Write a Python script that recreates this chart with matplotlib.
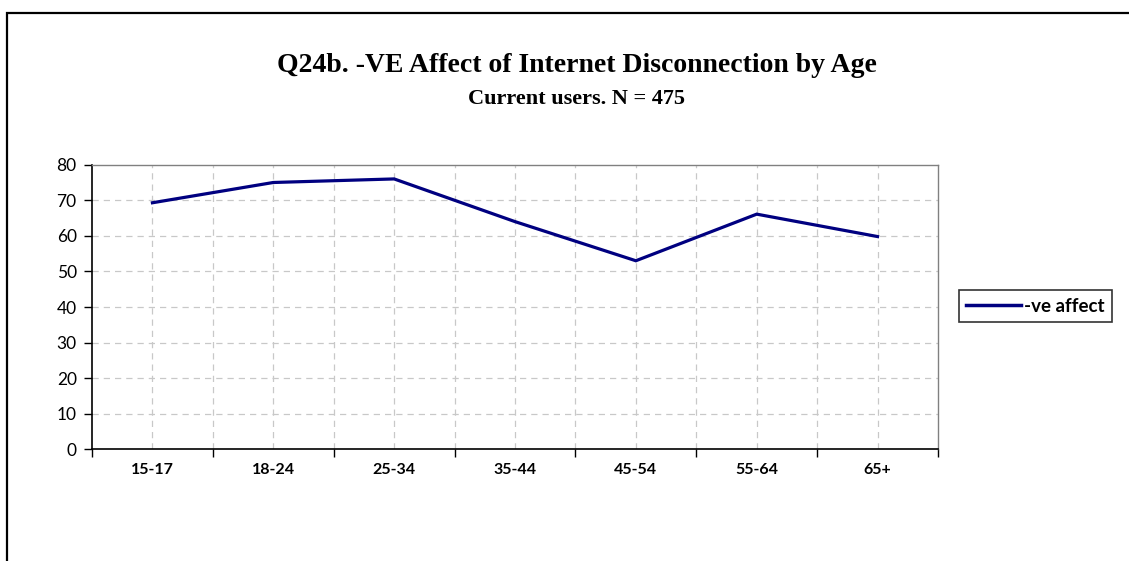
import matplotlib
matplotlib.use("Agg")
import matplotlib.pyplot as plt
from matplotlib.patches import Rectangle
import numpy as np

categories = ["15-17", "18-24", "25-34", "35-44", "45-54", "55-64", "65+"]
values = [69.3, 75.0, 76.0, 64.0, 53.0, 66.1, 59.8]
series_name = "-ve affect"
title = "Q24b. -VE Affect of Internet Disconnection by Age"
subtitle = "Current users. N = 475"
y_ticks = [0, 10, 20, 30, 40, 50, 60, 70, 80]

W, H = 1129, 561
fig = plt.figure(figsize=(W / 100, H / 100), dpi=100)

# outer chart border
fig.patches.append(Rectangle((7 / W, -0.1), 1.2, (H - 13) / H + 0.1,
                             transform=fig.transFigure, fill=False,
                             edgecolor="black", linewidth=1.6, zorder=0))

left, right = 92 / W, 938 / W
top, bottom = 1 - 164.7 / H, 1 - 449.3 / H
ax = fig.add_axes([left, bottom, right - left, top - bottom])

n = len(categories)
xpos = np.arange(n) + 0.5
ax.plot(xpos, values, color="#000080", linewidth=2.3, solid_joinstyle="miter",
        label=series_name, zorder=3)

ax.set_xlim(0, n)
ax.set_ylim(0, 80)
ax.set_yticks(y_ticks)
ax.set_yticklabels([str(t) for t in y_ticks], fontfamily="Lato", fontsize=12.5)

# major x ticks at category boundaries, labels at centres
ax.set_xticks(np.arange(n + 1))
ax.set_xticklabels([""] * (n + 1))
ax.set_xticks(xpos, minor=True)
ax.set_xticklabels(categories, minor=True, fontfamily="Lato",
                   fontweight="bold", fontsize=11.5)
ax.tick_params(axis="x", which="minor", length=0, pad=10)
ax.tick_params(axis="x", which="major", length=6, width=1, direction="out", color="black")
ax.tick_params(axis="y", length=6, width=1, direction="out", color="black", pad=5)

# gridlines
for v in y_ticks[1:-1]:
    ax.axhline(v, color="#c8c8c8", linewidth=0.9, linestyle=(0, (5, 4)), zorder=1)
for xv in np.arange(1, 2 * n) / 2.0:
    ax.axvline(xv, color="#c8c8c8", linewidth=0.9, linestyle=(0, (5, 4)), zorder=1)

for s in ["top", "right"]:
    ax.spines[s].set_color("#808080")
    ax.spines[s].set_linewidth(1.0)
for s in ["left", "bottom"]:
    ax.spines[s].set_color("black")
    ax.spines[s].set_linewidth(1.2)

fig.text(577 / W, 1 - 66 / H, title, ha="center", va="center",
         fontfamily="Liberation Serif", fontweight="bold", fontsize=20)
fig.text(577 / W, 1 - 99 / H, subtitle, ha="center", va="center",
         fontfamily="Liberation Serif", fontweight="bold", fontsize=16)

leg = fig.legend(loc="center", bbox_to_anchor=(1035.5 / W, 1 - 306 / H),
                 prop={"family": "Lato", "weight": "bold", "size": 13.5},
                 frameon=True, fancybox=False, edgecolor="black",
                 handlelength=2.9, handletextpad=0.2, borderpad=0.4,
                 borderaxespad=0)
leg.get_frame().set_linewidth(1.2)
leg.get_lines()[0].set_linewidth(2.5)

fig.savefig("out.png", dpi=100)
